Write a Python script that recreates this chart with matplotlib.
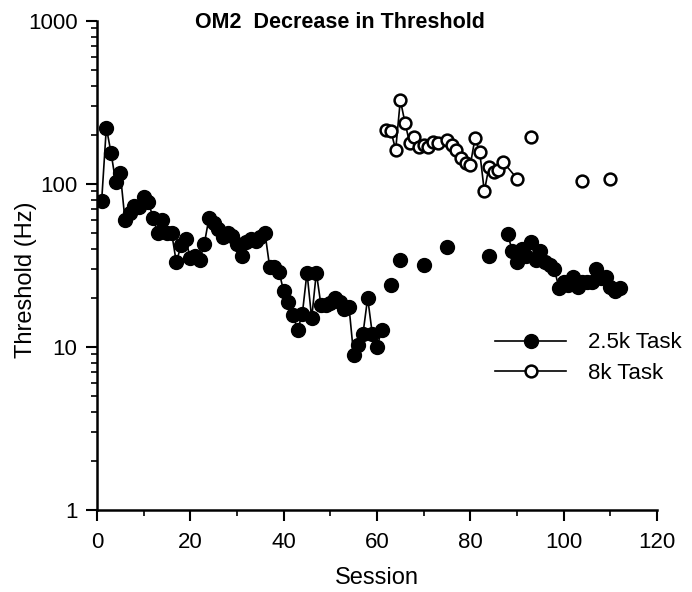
import matplotlib.pyplot as plt
import numpy as np
from matplotlib.ticker import FixedLocator, NullFormatter, LogLocator

plt.rcParams["font.family"] = ["Liberation Sans", "DejaVu Sans"]

# 2.5k task (filled circles)
sess_25k = [1, 2, 3, 4, 5, 6, 7, 8, 9, 10, 11, 12, 13, 14, 15, 16, 17, 18, 19, 20,
            21, 22, 23, 24, 25, 26, 27, 28, 29, 30, 31, 32, 33, 34, 35, 36, 37, 38, 39, 40,
            41, 42, 43, 44, 45, 46, 47, 48, 49, 50, 51, 52, 53, 54, 55, 56, 57, 58, 59, 60,
            61, 63, 65, 70, 75, 84,
            88, 89, 90, 91, 92, 93, 94, 95, 96, 97, 98, 99, 100, 101, 102, 103, 104, 105,
            106, 107, 108, 109, 110, 111, 112]
thr_25k = [79, 222, 156, 103, 116, 60, 66, 73, 72, 83, 78, 62, 50, 60, 50, 50, 33, 42, 46, 35,
           36, 34, 43, 62, 58, 53, 47, 50, 48, 43, 36, 44, 46, 45, 47, 50, 31, 31, 29, 22,
           19, 15.7, 12.7, 16, 28.6, 15, 28.6, 18, 18, 18.5, 20, 19, 17, 17.7, 8.9, 10.3, 12.1, 20, 12, 10,
           12.7, 24, 34, 32, 41, 36,
           49, 39, 33, 40, 36, 44, 34, 39, 33, 32, 30, 23, 25, 24, 27, 23.4, 25, 25,
           25, 30, 26.5, 27, 23.4, 22, 23]

# 8k task (open circles); nan marks a break in the connecting line
sess_8k = [62, 63, 64, 65, 66, 67, 68, 69, 70, 71, 72, 73, 75, 76, 77, 78, 79, 80, 81, 82,
           83, 84, 85, 86, 87, 90, 91, 93, 104, 110]
thr_8k = [214, 210, 162, 327, 238, 178, 193, 169, 173, 169, 182, 178, 186, 173, 162, 144, 134, 131, 191, 158,
          90, 128, 119, 122, 137, 108, np.nan, 193, 105, 108]


def runs(x, y, max_gap):
    x = np.array(x, float)
    y = np.array(y, float)
    cut = np.where(np.diff(x) > max_gap)[0] + 1
    return zip(np.split(x, cut), np.split(y, cut))


fig = plt.figure(figsize=(6.92, 5.92), dpi=100)
ax = fig.add_axes([97 / 692, 82 / 592, 560 / 692, 489 / 592])

for xs, ys in runs(sess_25k, thr_25k, 1):
    ax.plot(xs, ys, color="black", lw=1.2, marker="o", ms=10,
            mfc="black", mec="black")
for xs, ys in runs(sess_8k, thr_8k, 3):
    ax.plot(xs, ys, color="black", lw=1.2, marker="o", ms=8.5,
            mfc="white", mec="black", mew=1.8)

ax.set_yscale("log")
ax.set_xlim(0, 120)
ax.set_ylim(1, 1000)
ax.set_xticks(range(0, 121, 20))
ax.xaxis.set_minor_locator(FixedLocator(range(10, 120, 20)))
ax.yaxis.set_major_locator(FixedLocator([1, 10, 100, 1000]))
ax.yaxis.set_minor_locator(LogLocator(base=10, subs=range(2, 10)))
ax.yaxis.set_minor_formatter(NullFormatter())
ax.set_yticklabels(["1", "10", "100", "1000"])

ax.tick_params(which="major", direction="out", length=8, width=1.5,
               labelsize=16, pad=6)
ax.tick_params(which="minor", direction="out", length=4, width=1.2)
ax.tick_params(axis="x", which="major", pad=8)
for side in ["top", "right"]:
    ax.spines[side].set_visible(False)
for side in ["left", "bottom"]:
    ax.spines[side].set_linewidth(1.8)

ax.set_xlabel("Session", fontsize=17, labelpad=10)
ax.set_ylabel("Threshold (Hz)", fontsize=17)
ax.yaxis.set_label_coords(-0.107, 0.47)
fig.text(340 / 692, 1 - 22 / 592, "OM2  Decrease in Threshold",
         fontsize=15.5, fontweight="bold", ha="center", va="center")

h1, = ax.plot([], [], color="black", lw=1.2, marker="o", ms=10, mfc="black")
h2, = ax.plot([], [], color="black", lw=1.2, marker="o", ms=8.5, mfc="white", mew=1.8)
ax.legend([h1, h2], ["2.5k Task", "8k Task"], frameon=False, fontsize=16,
          handlelength=3.2, handletextpad=1.0, labelspacing=0.42,
          borderpad=0, borderaxespad=0,
          loc="center left", bbox_to_anchor=(495 / 692, 1 - 358 / 592),
          bbox_transform=fig.transFigure)

plt.savefig("out.png", dpi=100)
